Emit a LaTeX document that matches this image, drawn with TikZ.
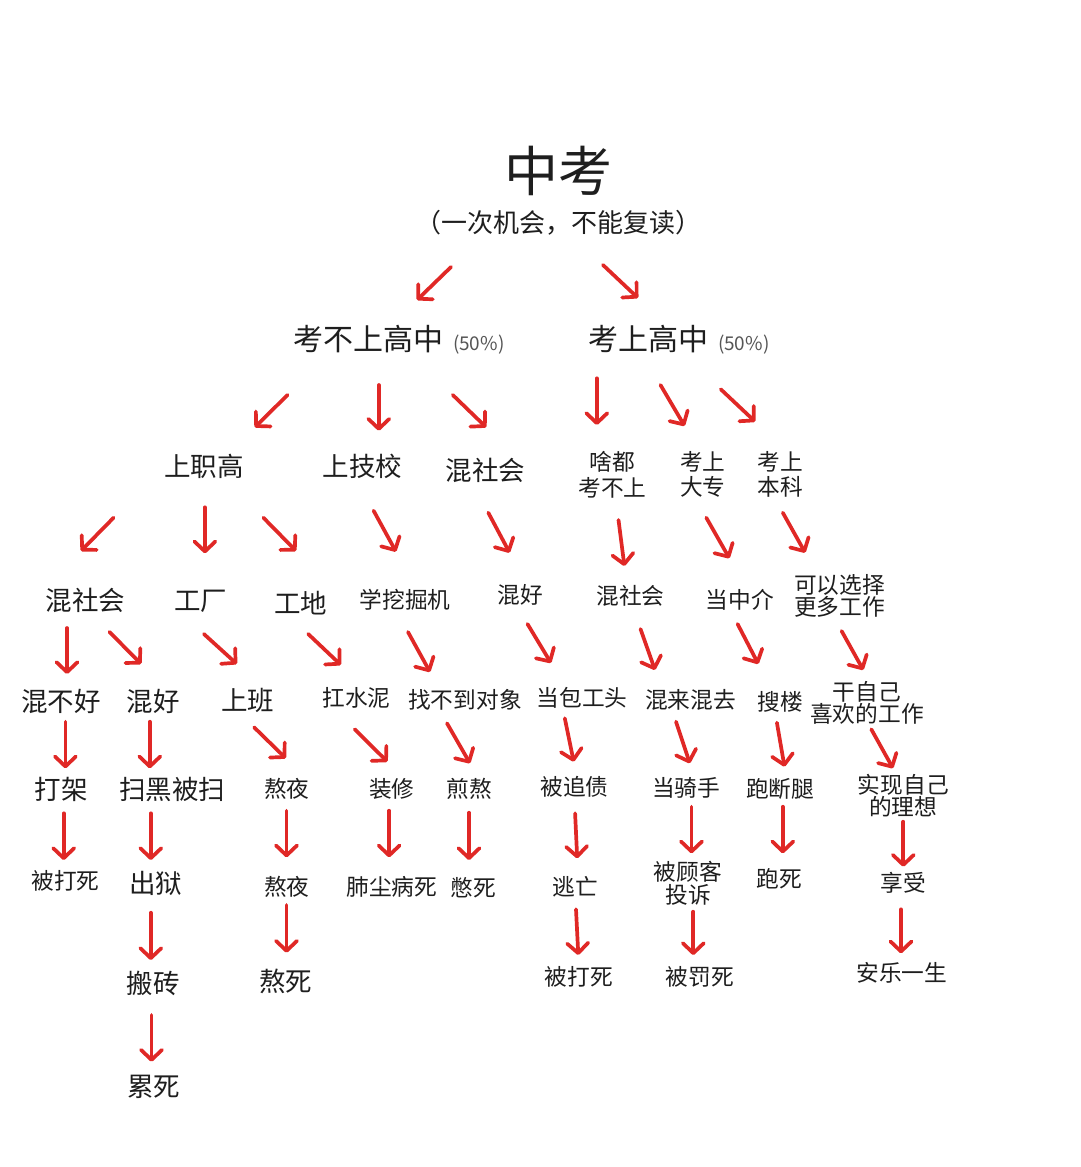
\documentclass[tikz,border=0pt]{standalone}
\usepackage{fontspec}
\setmainfont{Noto Sans CJK SC}
\usetikzlibrary{arrows.meta}
\definecolor{arrred}{RGB}{224,40,38}
\definecolor{txt}{RGB}{30,30,30}
\definecolor{pct}{RGB}{85,85,85}
\newcommand{\pctlabel}{\hspace{10pt}{\fontsize{19}{19}\selectfont\color{pct}(50\%)}}
\begin{document}
\begin{tikzpicture}[x=1pt,y=-1pt,
  every node/.style={inner sep=0pt,outer sep=0pt,text=txt},
  big/.style={font=\fontsize{26.5}{26.5}\selectfont},
  small/.style={font=\fontsize{22.7}{22.7}\selectfont},
  twol/.style={align=center,font=\fontsize{22.7}{#1}\selectfont},
  arr/.style={draw=arrred,line width=3.7pt,line cap=round,
    -{Straight Barb[length=10pt,width=21pt,line cap=round,line join=round]}}]
\useasboundingbox[fill=white] (0,0) rectangle (1080,1167);

% title
\node[font=\fontsize{54}{54}\selectfont] (t0) at (558.5,171) {中考};
\node[font=\fontsize{26}{26}\selectfont] (t0s) at (558,223) {（一次机会，不能复读）};

% level 2
\node[anchor=west,font=\fontsize{30}{30}\selectfont] (n1) at (293,340) {考不上高中\pctlabel};
\node[anchor=west,font=\fontsize{30}{30}\selectfont] (n2) at (588,340) {考上高中\pctlabel};

% level 3
\node[big] (n3) at (204,466.7) {上职高};
\node[big] (n4) at (362.5,466.7) {上技校};
\node[big] (n5) at (485.5,470) {混社会};
\node[twol=25.6] (n6) at (612.5,474.5) {啥都\\考不上};
\node[twol=25.6] (n7) at (702.7,474.5) {考上\\大专};
\node[twol=25.6] (n8) at (780.2,474.5) {考上\\本科};

% level 4
\node[big] (n9) at (85.3,600) {混社会};
\node[big] (n10) at (200.6,601.7) {工厂};
\node[big] (n11) at (300.5,603.3) {工地};
\node[small] (n12) at (405,600) {学挖掘机};
\node[small] (n13) at (520,595) {混好};
\node[small] (n14) at (630.4,596) {混社会};
\node[small] (n15) at (739.7,600) {当中介};
\node[twol=22.3] (n16) at (839.6,596) {可以选择\\更多工作};

% level 5
\node[big] (n17) at (61.2,701.7) {混不好};
\node[big] (n18) at (153.2,701.7) {混好};
\node[big] (n19) at (247.9,700) {上班};
\node[small] (n20) at (356.4,698.3) {扛水泥};
\node[small] (n21) at (465,700) {找不到对象};
\node[small] (n22) at (582,698.3) {当包工头};
\node[small] (n23) at (690.6,700) {混来混去};
\node[small] (n24) at (780.2,701.7) {搜楼};
\node[twol=22.3] (n25) at (867,702.8) {干自己\\喜欢的工作};

% level 6
\node[big] (n26) at (61.2,789.3) {打架};
\node[big] (n27) at (172.2,789.3) {扫黑被扫};
\node[small] (n28) at (286.7,789.3) {熬夜};
\node[small] (n29) at (391.7,789.3) {装修};
\node[small] (n30) at (469.2,789.3) {煎熬};
\node[small] (n31) at (574.4,786.7) {被追债};
\node[small] (n32) at (686.3,788.3) {当骑手};
\node[small] (n33) at (780.2,789.3) {跑断腿};
\node[twol=21.7] (n34) at (903.3,795.8) {实现自己\\的理想};

% level 7
\node[small] (n35) at (65.4,880.7) {被打死};
\node[big] (n36) at (155.8,883.3) {出狱};
\node[small] (n37) at (286.7,887.3) {熬夜};
\node[small] (n38) at (391.7,887.3) {肺尘病死};
\node[small] (n39) at (473.5,887.3) {憋死};
\node[small] (n40) at (575,886.7) {逃亡};
\node[twol=23.3] (n41) at (688,883.3) {被顾客\\投诉};
\node[small] (n42) at (779.3,878.3) {跑死};
\node[small] (n43) at (903.3,883.3) {享受};

% level 8
\node[big] (n44) at (153.2,983.3) {搬砖};
\node[big] (n45) at (285.8,981) {熬死};
\node[small] (n46) at (579,977.3) {被打死};
\node[small] (n47) at (700,977) {被罚死};
\node[small] (n48) at (901.7,973.3) {安乐一生};

% level 9
\node[big] (n49) at (153.5,1086.7) {累死};

% arrows
\foreach \i/\sx/\sy/\ex/\ey in {
  1/451/267/417/300, 2/603/265/638/298,
  3/287.5/395/254.8/427.3, 4/378.8/385/378.8/430.7, 5/452.8/395/486.2/427.3,
  6/596.8/378.3/596.8/425, 7/660.5/385/684.6/426, 8/720.8/389.3/755.2/421.7,
  9/113.6/517.7/80.9/551, 10/204.9/507.3/204.9/553.3, 11/263.4/517.7/296.1/551,
  12/373.6/510.7/396/551.7, 13/488.3/512.7/509.6/552.7, 14/618.5/520/624.4/566,
  15/706.3/517.7/729.4/558.3, 16/782.8/512.7/805.2/552.7,
  17/67/628/67/674, 18/109.5/632/141.2/664, 19/203.9/634/236.9/664,
  20/308.2/634/340.9/665, 21/408/632/430/672, 22/527.5/624/551/663,
  23/640.5/629/655/670, 24/737.6/624/758.3/664, 25/841.6/631/863.3/670,
  26/65.4/721.7/65.4/768.3, 27/149.8/721.7/149.8/768.3, 28/254.1/727.3/285.8/758.3,
  29/354.7/729.3/387.4/761.7, 30/447/723.3/470/763.3, 31/564.8/718.3/573.7/761.7,
  32/676/721.7/689.8/763.3, 33/776.9/722.7/784.5/766.7, 34/871.3/729.3/893/768.3,
  35/63.7/813.3/63.7/860, 36/150.8/813.3/150.8/860, 37/286.5/810.7/286.5/857.3,
  38/389.1/810.7/389.1/857.3, 39/469/812.7/469/860, 40/575.1/813.3/577.2/858.3,
  41/691.5/806.7/691.5/853.3, 42/782.8/806.7/782.8/853.3, 43/903.3/821.7/903.3/866.7,
  44/150.8/912.7/150.8/960, 45/286.5/905/286.5/952.7, 46/576/909.3/578.3/955,
  47/693.3/911.7/693.3/955, 48/901/909.3/901/953.3,
  49/151.5/1015/151.5/1061.7}
{
  \coordinate (s\i) at (\sx,\sy);
  \coordinate (e\i) at (\ex,\ey);
  \draw[arr] (s\i) -- (e\i);
}
\end{tikzpicture}
\end{document}
